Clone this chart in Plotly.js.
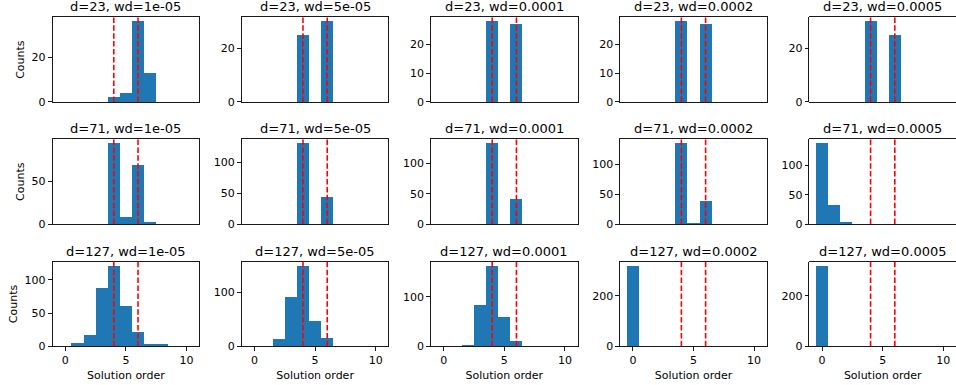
<!DOCTYPE html>
<html>
<head>
<meta charset="utf-8">
<script src="https://cdn.plot.ly/plotly-3.0.1.min.js"></script>
<style>html,body{margin:0;padding:0;background:#fff;}#chart{width:956px;height:385px;}</style>
</head>
<body>
<div id="chart"></div>
<script>
// ---- data ----
const dims = [23, 71, 127];
const wds = ['1e-05', '5e-05', '0.0001', '0.0002', '0.0005'];
const binCenters = [0, 1, 2, 3, 4, 5, 6, 7, 8, 9, 10];
const refLines = [4, 6];

const counts_d23 = [
  [0, 0, 0, 0, 2, 4, 36, 13, 0, 0, 0],
  [0, 0, 0, 0, 25, 0, 30, 0, 0, 0, 0],
  [0, 0, 0, 0, 28, 0, 27, 0, 0, 0, 0],
  [0, 0, 0, 0, 28, 0, 27, 0, 0, 0, 0],
  [0, 0, 0, 0, 30, 0, 25, 0, 0, 0, 0]
];
const counts_d71 = [
  [0, 0, 0, 0, 95, 8, 69, 2, 0, 0, 0],
  [0, 0, 0, 0, 130, 0, 44, 0, 0, 0, 0],
  [0, 0, 0, 0, 133, 0, 41, 0, 0, 0, 0],
  [0, 0, 0, 0, 135, 1, 38, 0, 0, 0, 0],
  [138, 33, 3, 0, 0, 0, 0, 0, 0, 0, 0]
];
const counts_d127 = [
  [0, 5, 17, 88, 121, 61, 21, 3, 3, 0, 0],
  [1, 1, 13, 92, 150, 47, 15, 0, 0, 0, 0],
  [0, 0, 3, 83, 163, 59, 10, 1, 0, 0, 0],
  [319, 0, 0, 0, 0, 0, 0, 0, 0, 0, 0],
  [319, 0, 0, 0, 0, 0, 0, 0, 0, 0, 0]
];
const xTickVals = [0, 5, 10];
const yTicks_d23 = [[0, 20], [0, 20], [0, 10, 20], [0, 10, 20], [0, 20]];
const yTicks_d71 = [[0, 50], [0, 50, 100], [0, 50, 100], [0, 50, 100], [0, 50, 100]];
const yTicks_d127 = [[0, 50, 100], [0, 100], [0, 100], [0, 200], [0, 200]];
const xLabel = 'Solution order';
const yLabel = 'Counts';

// ---- layout geometry (pixels) ----
const W = 956, H = 385;
const colLeft = [52.6, 241.8, 431.0, 620.2, 809.4];
const colWidth = 146.6;
const rowTop = [17.3, 139.4, 261.7];
const rowHeight = 84.6;

const allCounts = [counts_d23, counts_d71, counts_d127];
const allYTicks = [yTicks_d23, yTicks_d71, yTicks_d127];

const traces = [];
const layout = {
  width: W, height: H,
  margin: {l: 0, r: 0, t: 0, b: 0},
  paper_bgcolor: '#ffffff',
  plot_bgcolor: '#ffffff',
  showlegend: false,
  bargap: 0,
  font: {family: 'DejaVu Sans', size: 11, color: '#000000'},
  annotations: [],
  shapes: []
};

for (let r = 0; r < 3; r++) {
  for (let c = 0; c < 5; c++) {
    const idx = r * 5 + c + 1;
    const sfx = idx === 1 ? '' : String(idx);
    const xa = 'x' + sfx, ya = 'y' + sfx;
    const vals = allCounts[r][c];
    const ymax = Math.max(...vals) * 1.05;

    traces.push({
      type: 'bar', x: binCenters, y: vals, width: 1,
      xaxis: xa, yaxis: ya,
      marker: {color: '#1f77b4', line: {width: 0}},
      hoverinfo: 'x+y'
    });

    const x0 = colLeft[c] / W, x1 = (colLeft[c] + colWidth) / W;
    const y1 = 1 - rowTop[r] / H, y0 = 1 - (rowTop[r] + rowHeight) / H;

    const bottom = r === 2;
    layout['xaxis' + sfx] = {
      domain: [x0, x1], anchor: ya, range: [-1.05, 11.05],
      showgrid: false, zeroline: false,
      showline: true, mirror: true, linecolor: '#000000', linewidth: 0.9,
      ticks: bottom ? 'outside' : '', ticklen: 3.9, tickwidth: 0.9, tickcolor: '#000000',
      tickvals: xTickVals, showticklabels: bottom,
      tickfont: {family: 'DejaVu Sans', size: 11, color: '#000000'},
      title: bottom ? {text: xLabel, font: {family: 'DejaVu Sans', size: 11, color: '#000000'}, standoff: 4} : {text: ''},
      fixedrange: true
    };
    layout['yaxis' + sfx] = {
      domain: [y0, y1], anchor: xa, range: [0, ymax],
      showgrid: false, zeroline: false,
      showline: true, mirror: true, linecolor: '#000000', linewidth: 0.9,
      ticks: 'outside', ticklen: 3.9, tickwidth: 0.9, tickcolor: '#000000',
      tickvals: allYTicks[r][c],
      tickfont: {family: 'DejaVu Sans', size: 11, color: '#000000'},
      title: c === 0 ? {text: yLabel, font: {family: 'DejaVu Sans', size: 11, color: '#000000'}, standoff: 4} : {text: ''},
      fixedrange: true
    };

    layout.annotations.push({
      text: 'd=' + dims[r] + ', wd=' + wds[c],
      xref: 'paper', yref: 'paper',
      x: (x0 + x1) / 2, y: y1,
      xanchor: 'center', yanchor: 'bottom', yshift: 3,
      height: 14, valign: 'middle', borderpad: 0,
      showarrow: false,
      font: {family: 'DejaVu Sans', size: 13, color: '#000000'}
    });

    refLines.forEach(v => {
      layout.shapes.push({
        type: 'line', xref: xa, yref: ya + ' domain',
        x0: v, x1: v, y0: 0, y1: 1,
        line: {color: '#ff0000', width: 1.6, dash: '5.5px,2.4px'},
        layer: 'above'
      });
    });
  }
}

Plotly.newPlot('chart', traces, layout, {displayModeBar: false, staticPlot: true});
</script>
</body>
</html>
